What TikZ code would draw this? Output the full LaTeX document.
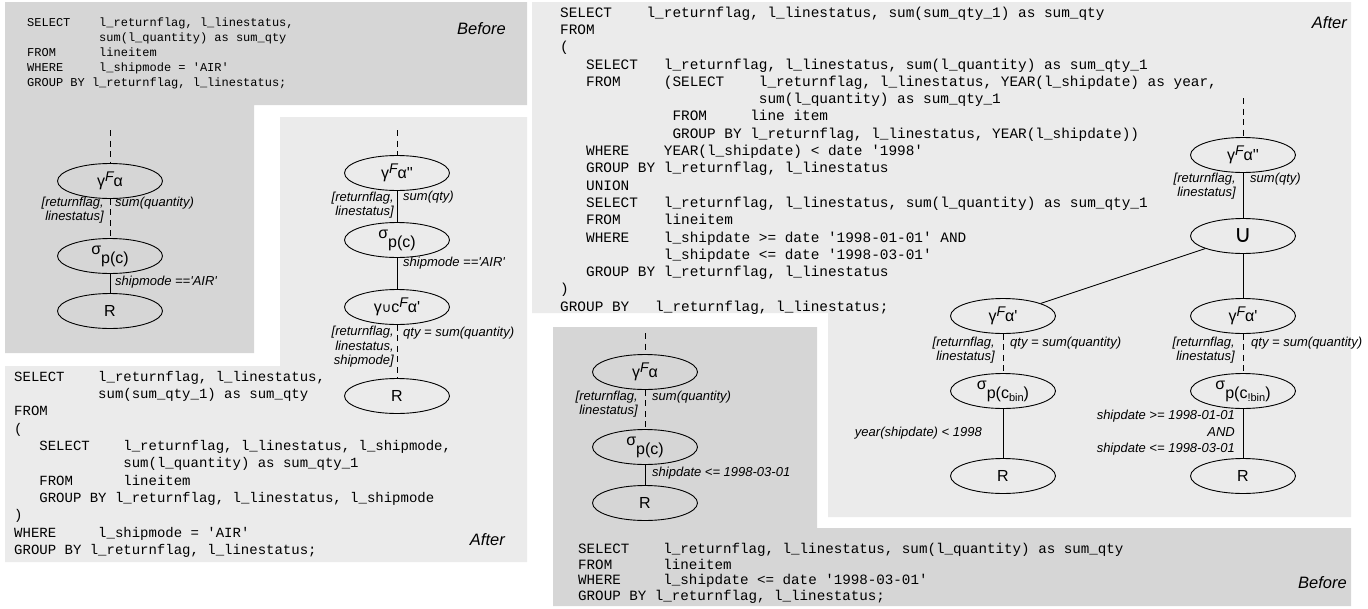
\documentclass[tikz,border=0pt]{standalone}
\usepackage{fontspec}
\usepackage{tikz}
\usetikzlibrary{shapes.geometric}
\newfontfamily\codefont{Liberation Mono}
\newfontfamily\labelfont{Liberation Sans}
\newfontfamily\unionfont{DejaVu Sans}
\definecolor{panelDark}{RGB}{214,214,214}
\definecolor{panelLight}{RGB}{235,235,235}

% operator glyphs: aggregation gamma^F_alpha and selection sigma_p(c)
\newcommand{\aggop}[2]{γ#1\raisebox{5.5pt}{\fontsize{14}{14}\selectfont\itshape F}\raisebox{0.5pt}{α#2}}
\newcommand{\selop}[1]{\raisebox{9pt}{σ}p(#1)}
\newcommand{\subtxt}[1]{\raisebox{-3pt}{\fontsize{11}{11}\selectfont #1}}

\begin{document}
\begin{tikzpicture}[x=1pt, y=-1pt,
  opnode/.style={ellipse, draw, line width=0.9pt, minimum width=105pt, minimum height=35pt, inner sep=0pt, font=\fontsize{16}{16}\labelfont},
  link/.style={line width=0.9pt},
  linkd/.style={line width=0.9pt, dash pattern=on 6pt off 4.5pt},
  lbl/.style={font=\fontsize{13}{14.5}\labelfont\itshape, inner sep=0pt},
  lbll/.style={lbl, anchor=east, align=right},
  lblr/.style={lbl, anchor=west, align=left},
  sqlblk/.style={anchor=north west, align=left, inner sep=0pt},
  panelname/.style={font=\fontsize{16.5}{17}\labelfont\itshape, anchor=east, inner sep=0pt}]

\useasboundingbox (0,0) rectangle (1368,608);

%% ── panels ───────────────────────────────────────────────────────
\fill[panelDark]  (5,2) -- (527,2) -- (527,105) -- (254,105) -- (254,353) -- (5,353) -- cycle;
\fill[panelLight] (280,117) -- (527,117) -- (527,562) -- (5,562) -- (5,366) -- (280,366) -- cycle;
\fill[panelLight] (532,2) -- (1351,2) -- (1351,517) -- (828,517) -- (828,313) -- (532,313) -- cycle;
\fill[panelDark]  (553,327) -- (817,327) -- (817,528) -- (1351,528) -- (1351,606) -- (553,606) -- cycle;

%% ── top left: query before ───────────────────────────────────────
\node[sqlblk, font=\fontsize{12}{15}\codefont] (sqlA) at (27,18) {%
SELECT~~~~l\_returnflag, l\_linestatus,\\
\mbox{~~~~~~~~~~}sum(l\_quantity) as sum\_qty\\
FROM~~~~~~lineitem\\
WHERE~~~~~l\_shipmode = 'AIR'\\
GROUP BY l\_returnflag, l\_linestatus;};
\node[panelname] (tagA) at (506,29) {Before};

\coordinate (topA) at (110,130);
\node[opnode] (aggA) at (110,181) {\aggop{}{}};
\node[opnode] (selA) at (110,256) {\selop{c}};
\node[opnode] (relA) at (110,311) {R};
\draw[linkd] (topA) -- (aggA);
\draw[linkd] (aggA) -- (selA);
\draw[link] (selA) -- (relA);
\node[lbll] (grpA) at (104,210) {[returnflag,\\linestatus]};
\node[lblr] (fnA) at (115,203) {sum(quantity)};
\node[lblr] (predA) at (115,282) {shipmode =='AIR'};

%% ── left: rewritten query ────────────────────────────────────────
\coordinate (topB) at (397,130);
\node[opnode] (aggB) at (397,173) {\aggop{}{''}};
\node[opnode] (selB) at (397,240) {\selop{c}};
\node[opnode] (preB) at (397,307) {\aggop{{\fontsize{13}{13}\unionfont ∪}c}{'}};
\node[opnode] (relB) at (397,396) {R};
\draw[linkd] (topB) -- (aggB);
\draw[link] (aggB) -- (selB);
\draw[link] (selB) -- (preB);
\draw[linkd] (preB) -- (relB);
\node[lbll] (grpB) at (394,205) {[returnflag,\\linestatus]};
\node[lblr] (fnB) at (403,197) {sum(qty)};
\node[lblr] (predB) at (403,263) {shipmode =='AIR'};
\node[lbll] (grpB2) at (394,347) {[returnflag,\\linestatus,\\shipmode]};
\node[lblr] (fnB2) at (403,333) {qty = sum(quantity)};

\node[sqlblk, font=\fontsize{14}{17.3}\codefont] (sqlB) at (14,371) {%
SELECT~~~~l\_returnflag, l\_linestatus,\\
\mbox{~~~~~~~~~~}sum(sum\_qty\_1) as sum\_qty\\
FROM\\
(\\
\mbox{~~~}SELECT~~~~l\_returnflag, l\_linestatus, l\_shipmode,\\
\mbox{~~~~~~~~~~~~~}sum(l\_quantity) as sum\_qty\_1\\
\mbox{~~~}FROM~~~~~~lineitem\\
\mbox{~~~}GROUP BY l\_returnflag, l\_linestatus, l\_shipmode\\
)\\
WHERE~~~~~l\_shipmode = 'AIR'\\
GROUP BY l\_returnflag, l\_linestatus;};
\node[panelname] (tagB) at (505,540) {After};

%% ── top right: rewritten query with union ────────────────────────
\node[sqlblk, font=\fontsize{14.4}{17.3}\codefont] (sqlC) at (560,6.5) {%
SELECT~~~~l\_returnflag, l\_linestatus, sum(sum\_qty\_1) as sum\_qty\\
FROM\\
(\\
\mbox{~~~}SELECT~~~l\_returnflag, l\_linestatus, sum(l\_quantity) as sum\_qty\_1\\
\mbox{~~~}FROM~~~~~(SELECT~~~~l\_returnflag, l\_linestatus, YEAR(l\_shipdate) as year,\\
\mbox{~~~~~~~~~~~~~~~~~~~~~~~}sum(l\_quantity) as sum\_qty\_1\\
\mbox{~~~~~~~~~~~~~}FROM~~~~~line item\\
\mbox{~~~~~~~~~~~~~}GROUP BY l\_returnflag, l\_linestatus, YEAR(l\_shipdate))\\
\mbox{~~~}WHERE~~~~YEAR(l\_shipdate) < date '1998'\\
\mbox{~~~}GROUP BY l\_returnflag, l\_linestatus\\
\mbox{~~~}UNION\\
\mbox{~~~}SELECT~~~l\_returnflag, l\_linestatus, sum(l\_quantity) as sum\_qty\_1\\
\mbox{~~~}FROM~~~~~lineitem\\
\mbox{~~~}WHERE~~~~l\_shipdate >= date '1998-01-01' AND\\
\mbox{~~~~~~~~~~~~}l\_shipdate <= date '1998-03-01'\\
\mbox{~~~}GROUP BY l\_returnflag, l\_linestatus\\
)\\
GROUP BY~~~l\_returnflag, l\_linestatus;};
\node[panelname] (tagC) at (1347,23) {After};

\coordinate (topC) at (1243,98);
\node[opnode] (aggC) at (1243,155) {\aggop{}{''}};
\node[opnode, font=\fontsize{24}{24}\unionfont] (uniC) at (1243,236) {∪};
\node[opnode] (preL) at (1003,316) {\aggop{}{'}};
\node[opnode] (preR) at (1243,316) {\aggop{}{'}};
\node[opnode] (selL) at (1003,391) {\selop{c\subtxt{bin}}};
\node[opnode] (selR) at (1243,391) {\selop{c\subtxt{!bin}}};
\node[opnode] (relL) at (1003,476) {R};
\node[opnode] (relR) at (1243,476) {R};
\draw[linkd] (topC) -- (aggC);
\draw[link] (aggC) -- (uniC);
\draw[link] (uniC) -- (preL);
\draw[link] (uniC) -- (preR);
\draw[linkd] (preL) -- (selL);
\draw[linkd] (preR) -- (selR);
\draw[link] (selL) -- (relL);
\draw[link] (selR) -- (relR);
\node[lbll] (grpC) at (1236,186) {[returnflag,\\linestatus]};
\node[lblr] (fnC) at (1250,179) {sum(qty)};
\node[lbll] (grpL) at (995,350) {[returnflag,\\linestatus]};
\node[lblr] (fnL) at (1010,343) {qty = sum(quantity)};
\node[lbll] (grpR) at (1235,350) {[returnflag,\\linestatus]};
\node[lblr] (fnR) at (1251,343) {qty = sum(quantity)};
\node[lbll] (predL) at (982,433) {year(shipdate) < 1998};
\node[lbll, font=\fontsize{13}{16.5}\labelfont\itshape] (predR) at (1235,433) {shipdate >= 1998-01-01\\AND\\shipdate <= 1998-03-01};

%% ── bottom right: query before ───────────────────────────────────
\coordinate (topD) at (645,333);
\node[opnode] (aggD) at (645,372) {\aggop{}{}};
\node[opnode] (selD) at (645,447) {\selop{c}};
\node[opnode] (relD) at (645,503) {R};
\draw[linkd] (topD) -- (aggD);
\draw[linkd] (aggD) -- (selD);
\draw[link] (selD) -- (relD);
\node[lbll] (grpD) at (638,404) {[returnflag,\\linestatus]};
\node[lblr] (fnD) at (652,397) {sum(quantity)};
\node[lblr] (predD) at (652,473) {shipdate <= 1998-03-01};

\node[sqlblk, font=\fontsize{14.2}{15.7}\codefont] (sqlD) at (578,543) {%
SELECT~~~~l\_returnflag, l\_linestatus, sum(l\_quantity) as sum\_qty\\
FROM~~~~~~lineitem\\
WHERE~~~~~l\_shipdate <= date '1998-03-01'\\
GROUP BY l\_returnflag, l\_linestatus;};
\node[panelname] (tagD) at (1347,583) {Before};

\end{tikzpicture}
\end{document}
